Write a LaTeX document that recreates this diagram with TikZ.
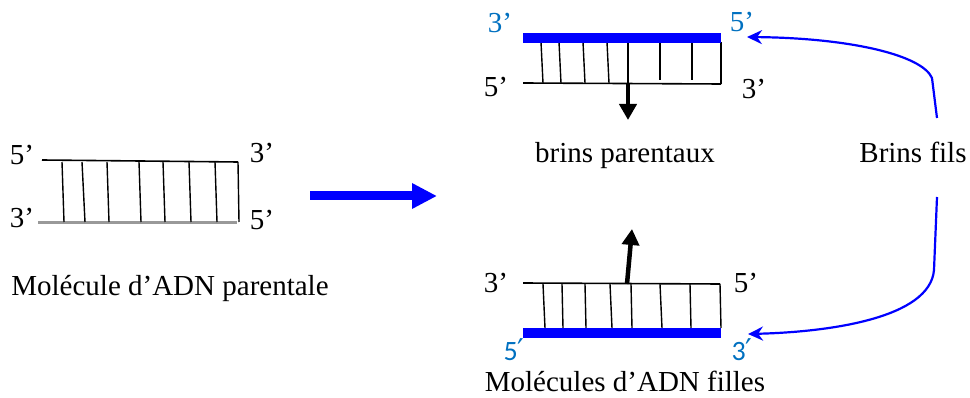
\documentclass[tikz,border=0pt]{standalone}
\usepackage{fontspec}
\setmainfont{Liberation Serif}
\newfontfamily\calib{Carlito}
\newfontfamily\primef{DejaVu Sans}
\usetikzlibrary{arrows.meta}
\definecolor{lblue}{RGB}{0,112,192}
\definecolor{pblue}{RGB}{0,0,255}
\newcommand{\myprime}{\smash{\primef\fontsize{30}{32}\selectfont ′}}
\begin{document}
\begin{tikzpicture}[x=1pt,y=-1pt,
  txt/.style={inner sep=0pt,font=\fontsize{29}{34}\selectfont},
  btxt/.style={txt,text=lblue},
  ctxt/.style={inner sep=0pt,text=lblue,font=\calib\fontsize{28}{32}\selectfont},
  strand/.style={line width=1.6pt,black},
  rung/.style={line width=1.4pt,black},
  newstrand/.style={line width=9.5pt,pblue},
  grayst/.style={line width=3pt,gray!80},
  bluecurve/.style={line width=2.2pt,pblue,-{Stealth[length=15pt,width=14pt]}},
  blackarr/.style={line width=4.5pt,black,-{Triangle[length=16pt,width=17pt]}}]
\useasboundingbox (0,0) rectangle (970,398);
% left molecule
\draw[strand] (42,160) -- (238,162);
\draw[grayst] (38,223) -- (237,223);
\foreach \a/\b in {62/64,82/85,107/109,139/141,163/165,189/191,215/217,238/239}{
  \draw[rung] (\a,162) -- (\b,222);}
\node[txt] (l5a) at (22,155) {5’};
\node[txt] (l3a) at (262,153) {3’};
\node[txt] (l3b) at (22,218) {3’};
\node[txt] (l5b) at (262,220) {5’};
\node[txt,anchor=base] (mp) at (170,296) {Molécule d’ADN parentale};
% big arrow
\coordinate (a1) at (310,196);
\coordinate (a2) at (437,196);
\draw[line width=9pt,pblue,-{Triangle[length=25pt,width=24pt]}] (a1) -- (a2);
% top molecule
\foreach \a/\b/\c in {541/543/83,559/561/83,583/585/83,607/609/83,628/628/83,660/660/80,692/692/80,721/721/84}{
  \draw[rung] (\a,42) -- (\b,\c);}
\draw[strand] (523,83) -- (721,84);
\draw[newstrand] (523,38) -- (721,38);
\node[btxt] (t3) at (500,23) {3’};
\node[btxt] (t5) at (742,22) {5’};
\node[txt] (t5b) at (496,87) {5’};
\node[txt] (t3b) at (754,89) {3’};
\coordinate (da) at (628,84);
\coordinate (db) at (628,120);
\draw[blackarr] (da) -- (db);
\node[txt,anchor=base] (bp) at (625,163) {brins parentaux};
\node[txt,anchor=base] (bf) at (913,163) {Brins fils};
% bottom molecule
\foreach \a/\b in {543/545,562/563,585/586,610/612,631/632,660/662,690/691,720/721}{
  \draw[rung] (\a,284) -- (\b,328);}
\draw[strand] (523,283) -- (720,284);
\draw[newstrand] (523,333) -- (721,333);
\coordinate (ua) at (627,284);
\coordinate (ub) at (632,229);
\draw[blackarr] (ua) -- (ub);
\node[txt] (b3) at (496,283) {3’};
\node[txt] (b5) at (746,283) {5’};
\node[ctxt,anchor=base] (b5b) at (514,360) {5\myprime};
\node[ctxt,anchor=base] (b3b) at (742,360) {3\myprime};
\node[txt,anchor=base] (mf) at (625,391) {Molécules d’ADN filles};
% daughter strand arrows
\coordinate (c1) at (937,118);
\coordinate (c2) at (932,78);
\coordinate (c3) at (747,37);
\draw[bluecurve] (c1) -- (c2) .. controls (922,55) and (850,38) .. (c3);
\coordinate (d1) at (937,197);
\coordinate (d2) at (934,270);
\coordinate (d3) at (748,334);
\draw[bluecurve] (d1) -- (d2) .. controls (930,318) and (830,332) .. (d3);
\end{tikzpicture}
\end{document}
